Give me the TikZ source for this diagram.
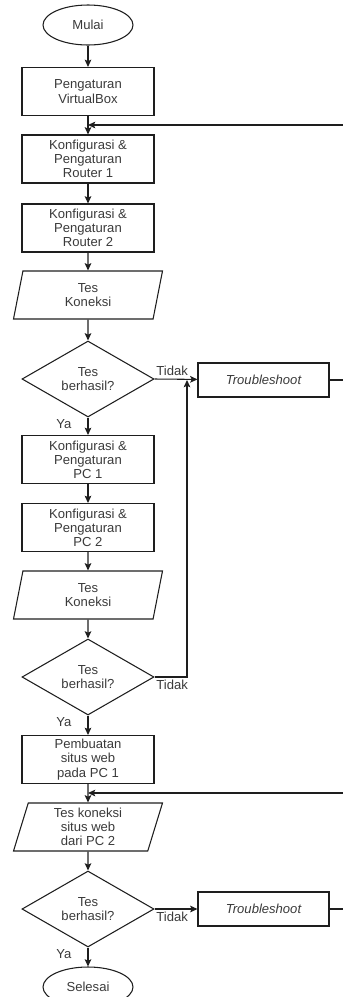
\documentclass[tikz,border=0pt]{standalone}
\usepackage{fontspec}
\setmainfont{Liberation Sans}
\usetikzlibrary{shapes.geometric,arrows.meta}
\definecolor{lnclr}{HTML}{1E1E1E}
\definecolor{txclr}{HTML}{3A3A3A}
\newcommand{\kpx}{0.75pt}
\tikzset{
  every node/.style={font=\fontsize{9.8}{10.6}\selectfont,text=txclr},
  termnode/.style={draw=lnclr,ellipse,minimum width=90*\kpx,minimum height=40*\kpx,inner sep=0pt},
  procbox/.style={draw=lnclr,rectangle,minimum width=132*\kpx,minimum height=48*\kpx,align=center,inner sep=0pt},
  iobox/.style={draw=lnclr,trapezium,trapezium left angle=70,trapezium right angle=110,trapezium stretches body,
    minimum width=149*\kpx,minimum height=48*\kpx,align=center,inner sep=1pt},
  decbox/.style={draw=lnclr,diamond,aspect=1.74,minimum width=132*\kpx,minimum height=76*\kpx,align=center,inner sep=0pt},
  tsbox/.style={draw=lnclr,rectangle,minimum width=131*\kpx,minimum height=34*\kpx,inner sep=0pt},
  lbl/.style={inner sep=1pt},
  arr/.style={draw=lnclr,-{Stealth[length=5.5pt,width=5pt,inset=1.2pt]}},
}
\begin{document}
\begin{tikzpicture}[x=0.75pt,y=-0.75pt,line width=0.8pt]
\useasboundingbox (0,0) rectangle (343,997);
\clip (0,0) rectangle (343,997);
\node[termnode] (mulai) at (88,25) {Mulai};
\foreach \nm/\yy/\txt in {vbox/91.5/{Pengaturan\\VirtualBox},rtra/159/{Konfigurasi \&\\Pengaturan\\Router 1},rtrb/228/{Konfigurasi \&\\Pengaturan\\Router 2},pca/459.5/{Konfigurasi \&\\Pengaturan\\PC 1},pcb/527.5/{Konfigurasi \&\\Pengaturan\\PC 2},web/759.5/{Pembuatan\\situs web\\pada PC 1}}{\node[procbox] (\nm) at (88,\yy) {\txt};}
\foreach \nm/\yy/\txt in {tesa/295/{Tes\\Koneksi},tesb/595/{Tes\\Koneksi},tesc/827/{Tes koneksi\\situs web\\dari PC 2}}{\node[iobox] (\nm) at (88,\yy) {\txt};}
\foreach \nm/\yy in {cka/379,ckb/677,ckc/909}{\node[decbox] (\nm) at (88,\yy) {Tes\\berhasil?};}
\node[tsbox] (tsa) at (263.5,380) {\itshape Troubleshoot};
\node[tsbox] (tsb) at (263.5,909) {\itshape Troubleshoot};
\node[termnode] (selesai) at (88,987) {Selesai};
\coordinate (fba) at (88,125);
\coordinate (fbb) at (88,793);
\coordinate (jn) at (187,380);
\foreach \a/\b in {mulai/vbox,vbox/rtra,rtra/rtrb,rtrb/tesa,tesa/cka,pca/pcb,pcb/tesb,tesb/ckb,web/tesc,tesc/ckc}{\draw[arr] (\a) -- (\b);}
\foreach \a/\b in {cka/pca,ckb/web,ckc/selesai}{\draw[arr] (\a) -- node[lbl,pos=0,anchor=north east,xshift=-11pt]{Ya} (\b);}
\draw[arr] (cka.east) -- node[lbl,pos=0,anchor=south west,yshift=1pt]{Tidak} (tsa);
\draw[arr] (ckb.east) -| node[lbl,pos=0,anchor=north west,yshift=-1pt]{Tidak} (jn);
\draw[arr] (ckc.east) -- node[lbl,pos=0,anchor=north west,yshift=-1pt]{Tidak} (tsb);
\draw[arr] (tsa.east) -- ++(25,0) |- (fba);
\draw[arr] (tsb.east) -- ++(25,0) |- (fbb);
\end{tikzpicture}
\end{document}
